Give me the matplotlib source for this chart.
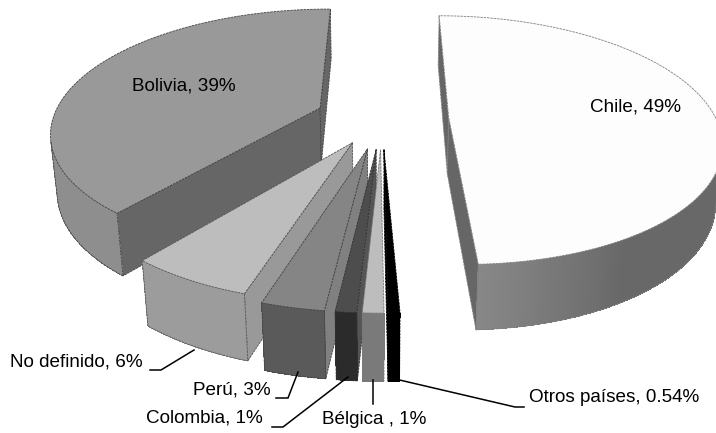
import numpy as np
import matplotlib
matplotlib.use('Agg')
import matplotlib.pyplot as plt

plt.rcParams['font.family'] = ['Liberation Sans', 'DejaVu Sans']

# clockwise from the top of the pie
names = ['Chile', 'Otros países', 'Bélgica ', 'Colombia', 'Perú', 'No definido', 'Bolivia']
values = [49, 0.54, 1, 1, 3, 6, 39]
value_text = ['49%', '0.54%', '1%', '1%', '3%', '6%', '39%']

top_col = ['#fdfdfd', '#000000', '#bdbdbd', '#4d4d4d', '#858585', '#bdbdbd', '#999999']
side_col = ['#686868', '#000000', '#7a7a7a', '#2b2b2b', '#5a5a5a', '#9c9c9c', '#8e8e8e']
cut_col = ['#666666', '#000000', '#666666', '#555555', '#808080', '#999999', '#666666']
edge_col = ['#808080', '#000000', '#777777', '#333333', '#444444', '#555555', '#444444']
explode = [0.25, 0.25, 0.25, 0.25, 0.25, 0.225, 0.25]

# painter's order, back to front
order = [6, 0, 5, 4, 3, 2, 1]

label_pos = {
    'Chile': (635, 107, 'center'),
    'Bolivia': (184, 86, 'center'),
    'No definido': (10, 362, 'left'),
    'Perú': (193, 390, 'left'),
    'Colombia': (146, 418, 'left'),
    'Bélgica ': (322, 419, 'left'),
    'Otros países': (529, 398, 'left'),
}
leaders = {
    'No definido': ([150, 161, 194], [370, 370, 350]),
    'Perú': ([276, 288, 298], [398, 398, 372]),
    'Colombia': ([272, 283, 348], [427, 427, 377]),
    'Bélgica ': ([373, 373], [380, 404]),
    'Otros países': ([391, 515, 524], [378, 407, 407]),
}

THICK = 1.0
ROTATE = np.radians(0.2)


def project(x, y, z=0.0):
    # pie plane seen in perspective, z goes down
    w = 1 + 0.183 * y + 0.02 * z
    return 382 + 267 * x / w, -540 + (658 + 71 * z) / w


def draw_face(ax, xs, ys, color, edge):
    ax.fill(xs, ys, facecolor=color, edgecolor=edge, lw=0.6, linestyle=(0, (3, 1)), joinstyle='round')


def signed_area(xs, ys):
    return 0.5 * np.sum(np.asarray(xs) * np.roll(ys, -1) - np.roll(xs, -1) * np.asarray(ys))


def shade(color, f):
    rgb = np.array(matplotlib.colors.to_rgb(color))
    return tuple(np.clip(rgb * f, 0, 1))


fig = plt.figure(figsize=(7.16, 4.33), dpi=100)
ax = fig.add_axes([0, 0, 1, 1])
ax.set_xlim(0, 716)
ax.set_ylim(433, 0)
ax.axis('off')

angles = np.cumsum([0] + values) / np.sum(values) * 2 * np.pi + ROTATE

for i in order:
    a0, a1 = angles[i], angles[i + 1]
    mid = (a0 + a1) / 2
    ox, oy = explode[i] * np.sin(mid), explode[i] * np.cos(mid)
    t = np.linspace(a0, a1, max(6, int((a1 - a0) * 60)))
    ex = ox + np.sin(t)
    ey = oy + np.cos(t)

    # flat cut faces, the hidden one is never filled
    for a in (a0, a1):
        cx = [ox, ox + np.sin(a), ox + np.sin(a), ox]
        cy = [oy, oy + np.cos(a), oy + np.cos(a), oy]
        cz = [0, 0, THICK, THICK]
        px, py = project(np.array(cx), np.array(cy), np.array(cz))
        s = signed_area(px, py)
        visible = s < 0 if a == a0 else s > 0
        if visible:
            draw_face(ax, px, py, cut_col[i], edge_col[i])

    # rim, lighter towards the left end of each slice
    drawn = []
    for j in range(len(t) - 1):
        qx = [ex[j], ex[j + 1], ex[j + 1], ex[j]]
        qy = [ey[j], ey[j + 1], ey[j + 1], ey[j]]
        px, py = project(np.array(qx), np.array(qy), np.array([0, 0, THICK, THICK]))
        if signed_area(px, py) < 0:
            drawn.append(j)
    for k, j in enumerate(drawn):
        qx = [ex[j], ex[j + 1], ex[j + 1], ex[j]]
        qy = [ey[j], ey[j + 1], ey[j + 1], ey[j]]
        px, py = project(np.array(qx), np.array(qy), np.array([0, 0, THICK, THICK]))
        f = 1 + 0.3 * max(0, k / max(len(drawn) - 1, 1) - 0.6) / 0.4
        ax.fill(px, py, facecolor=shade(side_col[i], f if i == 0 else 1), edgecolor='none', antialiased=False)
    if drawn:
        keep = np.r_[drawn, drawn[-1] + 1]
        bx, by = project(ex[keep], ey[keep], THICK)
        ax.plot(bx, by, color=edge_col[i], lw=0.6, linestyle=(0, (3, 1)))
        for j in (keep[0], keep[-1]):
            sx, sy = project(np.array([ex[j], ex[j]]), np.array([ey[j], ey[j]]), np.array([0, THICK]))
            ax.plot(sx, sy, color=edge_col[i], lw=0.6, linestyle=(0, (3, 1)))

    # top
    px, py = project(np.r_[ox, ex], np.r_[oy, ey], 0)
    draw_face(ax, px, py, top_col[i], edge_col[i])

for i, name in enumerate(names):
    x, y, ha = label_pos[name]
    ax.text(x, y, f'{name}, {value_text[i]}', fontsize=13.6, ha=ha, va='center', color='black')
    if name in leaders:
        ax.plot(leaders[name][0], leaders[name][1], color='black', lw=1.1, solid_joinstyle='miter')

fig.savefig('out.png', dpi=100, facecolor='white')
